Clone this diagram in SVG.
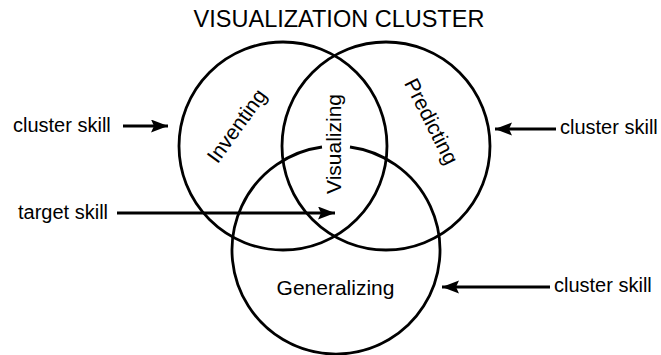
<svg xmlns="http://www.w3.org/2000/svg" width="661" height="355" viewBox="0 0 661 355">
  <style>
    .c { fill: none; stroke: #000; stroke-width: 2.8; }
    .t { font-family: "Liberation Sans", Arial, sans-serif; fill: #000; }
    .lbl { font-size: 20px; }
    .in { font-size: 21px; }
    .a { stroke: #000; stroke-width: 3; fill: none; }
  </style>
  <defs>
    <marker id="ah" markerUnits="userSpaceOnUse" markerWidth="18" markerHeight="14" refX="17" refY="6.5" orient="auto">
      <path d="M0,0 L17,6.5 L0,13 L3,6.5 Z" fill="#000"/>
    </marker>
  </defs>
  <rect width="661" height="355" fill="#fff"/>
  <text id="title" class="t" x="339" y="27" font-size="23.5" text-anchor="middle">VISUALIZATION CLUSTER</text>

  <g id="inventing">
    <circle class="c" cx="283" cy="146" r="104"/>
    <text class="t in" text-anchor="middle" transform="translate(242.5,130) rotate(-54)">Inventing</text>
  </g>
  <g id="predicting">
    <circle class="c" cx="386" cy="146" r="104"/>
    <text class="t in" text-anchor="middle" transform="translate(425,124.5) rotate(63)">Predicting</text>
  </g>
  <g id="generalizing">
    <path class="c" d="M 350 147 A 104 104 0 1 1 322 147"/>
    <text class="t in" x="335.5" y="295" text-anchor="middle">Generalizing</text>
  </g>
  <g id="visualizing">
    <text class="t in" text-anchor="middle" transform="translate(341,144) rotate(-90)">Visualizing</text>
  </g>

  <g id="label-cluster-1"><text class="t lbl" x="13" y="132">cluster skill</text></g>
  <g id="label-target"><text class="t lbl" x="18" y="219">target skill</text></g>
  <g id="label-cluster-2"><text class="t lbl" x="560" y="134">cluster skill</text></g>
  <g id="label-cluster-3"><text class="t lbl" x="554" y="292">cluster skill</text></g>

  <g id="connectors">
    <line class="a" x1="123" y1="126" x2="168" y2="126" marker-end="url(#ah)"/>
    <line class="a" x1="117" y1="213" x2="335" y2="213" marker-end="url(#ah)"/>
    <line class="a" x1="556" y1="129" x2="495" y2="129" marker-end="url(#ah)"/>
    <line class="a" x1="550" y1="287" x2="442" y2="287" marker-end="url(#ah)"/>
  </g>
</svg>
